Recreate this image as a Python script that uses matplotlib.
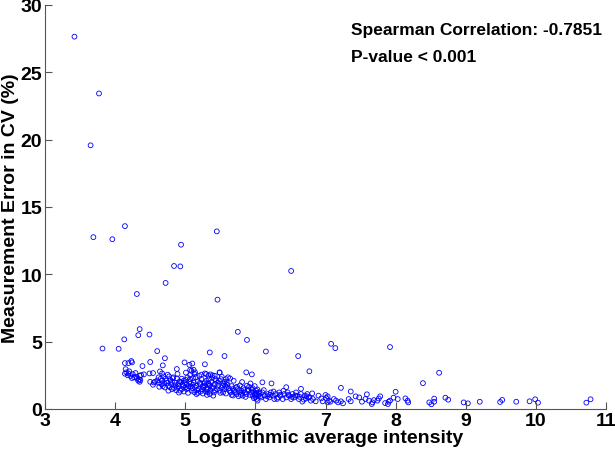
import matplotlib
matplotlib.use("Agg")
import matplotlib.pyplot as plt

plt.rcParams['font.family'] = ['Liberation Sans', 'DejaVu Sans']

# --- data ---
x_high = [3.42, 3.77, 3.65, 3.69, 3.96, 4.14, 5.45, 4.94, 4.84, 4.93, 4.72, 4.31, 5.46, 6.51]
y_high = [27.65, 23.43, 19.58, 12.76, 12.61, 13.58, 13.19, 12.20, 10.62, 10.59, 9.36, 8.54, 8.12, 10.25]

x_mid = [5.75, 4.35, 4.33, 4.49, 4.13, 3.82, 4.05, 4.60, 5.35, 5.56, 4.71, 5.88, 6.15, 6.61, 7.08, 7.14, 7.92,
         4.14, 4.19, 4.23, 4.24, 4.50, 4.99, 5.06, 5.10, 5.28, 4.39, 4.68,
         4.88, 5.07, 5.49, 5.87, 5.95, 6.77, 8.62, 5.64,
         6.10, 6.23, 6.44, 6.65, 7.22, 7.36, 8.39]
y_mid = [5.73, 5.93, 5.48, 5.53, 5.17, 4.49, 4.47, 4.30, 4.20, 3.93, 3.77, 5.13, 4.27, 3.93, 4.84, 4.52, 4.60,
         3.41, 3.41, 3.56, 3.46, 3.49, 3.46, 3.28, 3.38, 3.32, 3.19, 3.24,
         2.97, 2.91, 2.70, 2.72, 2.57, 2.80, 2.69, 2.27,
         1.98, 1.90, 1.62, 1.50, 1.57, 1.30, 1.92]

x_left = [4.15, 4.16, 4.14, 4.19, 4.25, 4.29, 4.27, 4.31, 4.33, 4.35, 4.37, 4.41, 4.35, 4.18, 4.22, 4.30, 4.34,
          4.20, 4.24, 4.36, 4.49, 4.54, 4.64, 4.67, 4.50, 4.55, 4.57, 4.60, 4.54]
y_left = [2.96, 2.72, 2.62, 2.64, 2.59, 2.67, 2.35, 2.27, 2.10, 2.02, 2.52, 2.57, 2.47, 2.50, 2.45, 2.40, 2.20,
          2.80, 2.30, 2.15, 2.64, 2.67, 2.79, 2.64, 2.02, 1.97, 2.02, 2.12, 1.80]

x_core1 = [4.69, 4.77, 4.83, 4.88, 4.81, 4.85, 4.92, 4.76, 4.71, 4.81, 4.88, 4.95, 4.97, 5.02, 5.03, 5.07, 5.09,
           5.12, 5.14, 5.07, 5.12, 5.16, 5.19, 5.21, 5.26, 5.30, 5.28, 5.23, 5.30, 5.33, 5.16, 5.09, 5.02, 4.93,
           4.76, 4.67, 4.62, 4.66, 4.74, 4.79, 4.86, 4.90, 4.98, 5.00, 5.05, 5.10, 5.13, 5.18, 5.22, 5.25, 5.32,
           5.35, 5.20, 5.15, 4.95, 4.72, 4.84, 4.91, 5.04, 4.99, 5.11, 5.27, 4.80, 4.70, 4.63, 4.96, 5.06, 5.24,
           5.31, 5.17, 5.08]
y_core1 = [2.42, 2.42, 2.35, 2.27, 2.02, 1.98, 2.05, 1.73, 1.60, 1.48, 1.60, 1.48, 1.73, 1.85, 2.35, 2.52, 2.84,
           2.91, 2.72, 2.22, 1.98, 1.73, 1.48, 1.85, 1.60, 1.48, 1.98, 2.22, 2.59, 2.47, 1.11, 1.36, 1.48, 1.36,
           1.36, 2.10, 2.35, 1.85, 1.95, 2.15, 1.75, 1.85, 2.10, 1.60, 1.70, 1.55, 1.25, 2.05, 1.30, 1.15, 1.25,
           1.75, 2.45, 2.35, 2.25, 2.25, 1.55, 1.22, 1.20, 1.95, 1.80, 1.90, 1.85, 1.90, 1.65, 1.80, 2.00, 1.45,
           1.05, 1.40, 1.65]

x_core2 = [5.28, 5.36, 5.42, 5.49, 5.58, 5.61, 5.56, 5.59, 5.93, 5.88,
           5.30, 5.33, 5.35, 5.37, 5.40, 5.42, 5.45, 5.47, 5.49, 5.52, 5.54, 5.56, 5.28, 5.32, 5.36, 5.41, 5.44,
           5.51, 5.34, 5.38, 5.43, 5.48, 5.55, 5.57, 5.35, 5.40,
           5.59, 5.63, 5.65, 5.68, 5.70, 5.73, 5.75, 5.77, 5.80, 5.82, 5.85, 5.87, 5.90, 5.94, 5.96, 5.99, 6.00,
           6.01, 6.03, 6.04, 6.06, 6.08, 6.10, 6.13, 6.15, 6.18, 6.20, 6.22, 6.25, 6.27, 6.29, 6.32, 6.34, 6.36,
           6.39, 6.41, 6.44, 6.46, 6.48, 6.51, 6.53, 6.55, 6.58, 6.60, 6.62, 6.65, 6.67, 6.70, 6.72, 6.74, 6.76,
           6.79, 5.98, 6.00, 6.02, 6.01, 5.97, 6.05, 5.95, 6.03,
           5.60, 5.66, 5.72, 5.78, 5.83, 5.91, 5.89, 5.68, 5.76, 5.84]
y_core2 = [2.64, 2.57, 2.47, 2.72, 2.22, 2.35, 2.02, 1.98, 1.90, 1.73,
           2.10, 1.85, 1.73, 1.98, 1.60, 1.85, 1.48, 1.73, 1.36, 1.60, 1.23, 1.48, 1.73, 1.48, 1.36, 1.23, 2.10,
           2.22, 2.22, 2.35, 2.22, 2.10, 1.85, 1.73, 1.11, 0.99,
           1.60, 1.36, 1.23, 1.48, 1.36, 1.11, 1.48, 1.23, 1.36, 0.99, 1.23, 1.11, 1.36, 1.23, 0.99, 1.11, 0.86,
           1.36, 0.62, 0.99, 1.11, 0.86, 1.23, 0.99, 0.74, 1.11, 0.86, 1.23, 0.99, 0.74, 1.11, 0.86, 1.23, 0.99,
           0.74, 1.11, 0.86, 1.23, 0.99, 0.74, 1.11, 0.86, 1.23, 0.99, 0.74, 1.11, 0.55, 0.99, 0.78, 1.11, 0.86,
           0.62, 0.80, 1.00, 0.75, 1.20, 1.30, 1.25, 1.45, 1.45,
           1.80, 1.70, 1.60, 1.75, 1.55, 1.65, 1.45, 1.00, 0.95, 1.40]

x_core3 = [4.62, 4.65, 4.68, 4.73, 4.78, 4.82, 4.87, 4.91, 4.94, 4.98, 5.01, 5.04, 5.08, 5.11, 5.14, 5.18,
           5.21, 5.25, 5.29, 5.33, 5.38, 5.42, 5.46, 5.50, 5.53, 5.58, 5.62, 5.66, 5.71, 5.74, 5.79, 5.81,
           5.86, 5.92, 5.96, 6.02, 6.07, 6.12, 6.17, 6.21, 6.26, 6.31, 6.35, 6.40, 6.47, 6.52, 6.57, 6.63,
           6.69, 6.73, 4.75, 4.89, 5.01, 5.13, 5.23, 5.39, 5.52, 5.69, 5.81, 5.99]
y_core3 = [1.95, 2.25, 1.70, 2.08, 1.62, 2.28, 1.40, 1.70, 2.00, 1.30, 2.15, 1.55, 1.90, 2.30, 1.60, 1.20,
           1.95, 1.70, 1.30, 1.90, 1.55, 1.40, 1.95, 1.20, 1.75, 1.15, 1.55, 1.05, 1.25, 1.65, 1.05, 1.20,
           0.90, 1.05, 1.55, 1.10, 0.95, 1.40, 0.95, 1.05, 1.30, 0.75, 1.05, 1.35, 1.05, 0.90, 1.00, 0.90,
           0.70, 0.95, 2.55, 2.60, 2.70, 2.60, 2.55, 2.50, 2.40, 2.10, 2.00, 1.70]

x_tail1 = [6.81, 6.90, 6.94, 7.00, 7.03, 7.05, 7.07, 7.03, 7.12, 7.15, 7.18, 7.22, 7.25, 7.33, 7.36, 7.43, 7.48,
           7.52, 7.57, 7.62, 7.67, 7.69, 7.74, 7.76, 7.85, 7.90, 7.92, 7.97, 8.14, 8.17, 8.18, 6.82, 6.77, 6.86,
           6.96, 7.01, 7.59, 8.00, 7.78, 7.89, 7.66, 8.03]
y_tail1 = [1.16, 0.99, 0.79, 1.04, 0.94, 0.62, 0.54, 0.49, 0.74, 0.62, 0.49, 0.57, 0.42, 0.74, 0.57, 0.94, 0.86,
           0.54, 0.74, 0.62, 0.49, 0.66, 0.62, 0.78, 0.44, 0.54, 0.62, 0.84, 0.79, 0.62, 0.49, 0.74, 0.86, 0.57,
           0.57, 0.82, 1.09, 1.28, 0.94, 0.37, 0.37, 0.74]

x_tail2 = [8.48, 8.51, 8.55, 8.55, 8.71, 8.75, 8.97, 9.03, 9.20, 9.49, 9.52, 9.72, 9.91, 9.99, 10.03, 10.72, 10.78]
y_tail2 = [0.49, 0.35, 0.54, 0.77, 0.84, 0.69, 0.49, 0.42, 0.54, 0.52, 0.67, 0.54, 0.57, 0.72, 0.47, 0.47, 0.72]

x_ticks = [3, 4, 5, 6, 7, 8, 9, 10, 11]
y_ticks = [0, 5, 10, 15, 20, 25, 30]

x_all = x_high + x_mid + x_left + x_core1 + x_core2 + x_core3 + x_tail1 + x_tail2
y_all = y_high + y_mid + y_left + y_core1 + y_core2 + y_core3 + y_tail1 + y_tail2

fig = plt.figure(figsize=(6.15, 4.52), dpi=100)
ax = fig.add_axes([45/615, 42/452, 561/615, 404/452])
ax.scatter(x_all, y_all, s=12, facecolors='none', edgecolors='#0000ff', linewidths=0.6)

ax.set_xlim(3, 11)
ax.set_ylim(0, 30)
ax.set_xticks(x_ticks)
ax.set_yticks(y_ticks)
for s in ['top', 'right']:
    ax.spines[s].set_visible(False)
for s in ['left', 'bottom']:
    ax.spines[s].set_color('#555555')
    ax.spines[s].set_linewidth(0.8)
ax.tick_params(direction='in', length=5, width=0.8, color='#555555', labelsize=14, pad=2)
for lab in ax.get_xticklabels() + ax.get_yticklabels():
    lab.set_fontweight('bold')

ax.set_xlabel('Logarithmic average intensity', fontsize=14, fontweight='bold', labelpad=0)
ax.set_ylabel('Measurement Error in CV (%)', fontsize=14, fontweight='bold', labelpad=1)

ax.text(7.36, 28.75, 'Spearman Correlation: -0.7851', fontsize=12.5, fontweight='bold', va='top', ha='left')
ax.text(7.36, 26.75, 'P-value < 0.001', fontsize=12.5, fontweight='bold', va='top', ha='left')

fig.savefig('out.png', dpi=100)
